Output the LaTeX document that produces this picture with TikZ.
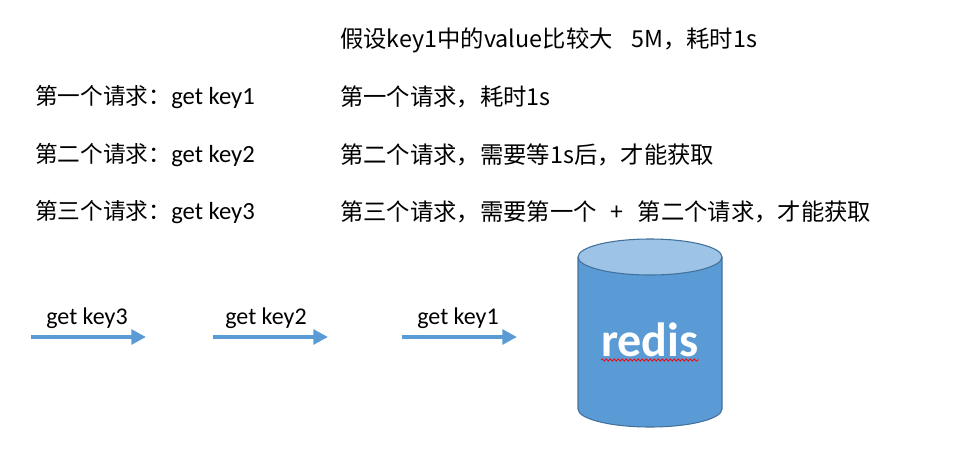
\documentclass[tikz,border=0pt]{standalone}
\usepackage{fontspec}
\setmainfont{Carlito}
\newfontfamily\cjk{Noto Sans CJK SC}
\usetikzlibrary{arrows.meta,decorations.pathmorphing}
\definecolor{arrowblue}{HTML}{5B9BD5}
\definecolor{bodyblue}{HTML}{5B9BD5}
\definecolor{topblue}{HTML}{9DC3E6}
\definecolor{rimblue}{HTML}{41719C}

\begin{document}
\begin{tikzpicture}[x=0.75pt, y=-0.75pt]
\tikzset{left/.style = {anchor=west, inner sep=0pt, font=\fontsize{17}{20}\selectfont}}
\tikzset{right/.style = {anchor=west, inner sep=0pt, font=\fontsize{17.5}{20}\selectfont\cjk}}
\tikzset{label/.style = {inner sep=0pt, font=\fontsize{18}{20}\selectfont}}
\tikzset{edge/.style = {-{Triangle[length=11pt, width=11pt]}, line width=3pt, draw=arrowblue}}
\useasboundingbox (0,0) rectangle (974,457);

\node[right] (note) at (340, 40) {假设key1中的value比较大\hspace{0.8em}5M，耗时1s};
\node[left] (req1) at (35, 97)  {{\cjk 第一个请求：}\fontsize{18.5}{20}\selectfont get key1};
\node[left] (req2) at (35, 155) {{\cjk 第二个请求：}\fontsize{18.5}{20}\selectfont get key2};
\node[left] (req3) at (35, 212) {{\cjk 第三个请求：}\fontsize{18.5}{20}\selectfont get key3};
\node[right] (cost1) at (340, 97)  {第一个请求，耗时1s};
\node[right] (cost2) at (340, 155) {第二个请求，需要等1s后，才能获取};
\node[right] (cost3) at (340, 212) {第三个请求，需要第一个\hspace{0.6em}+\hspace{0.6em}第二个请求，才能获取};

%redis
\fill[bodyblue] (578,257) -- (578,409) arc (180:0:72 and 18) -- (722,257) -- cycle;
\draw[rimblue, line width=0.8pt] (578,257) -- (578,409) arc (180:0:72 and 18) -- (722,257);
\draw[rimblue, line width=0.8pt, fill=topblue] (650,257) ellipse (72 and 18);
\node[inner sep=0pt, text=white, font=\fontsize{36}{40}\selectfont\bfseries] (redis) at (650, 340) {redis};
\draw[red, line width=0.6pt, decorate, decoration={snake, amplitude=0.8pt, segment length=3pt}]
  ([yshift=-2pt]redis.south west) -- ([yshift=-2pt]redis.south east);

%requests
\coordinate (s3) at (31, 337);  \coordinate (e3) at (146, 337);
\coordinate (s2) at (213, 337); \coordinate (e2) at (328, 337);
\coordinate (s1) at (402, 337); \coordinate (e1) at (517, 337);
\node[label] (get3) at (87, 318)  {get key3};
\node[label] (get2) at (266, 318) {get key2};
\node[label] (get1) at (458, 318) {get key1};

%edges
\draw[edge] (s3) -- (e3);
\draw[edge] (s2) -- (e2);
\draw[edge] (s1) -- (e1);

\end{tikzpicture}
\end{document}
